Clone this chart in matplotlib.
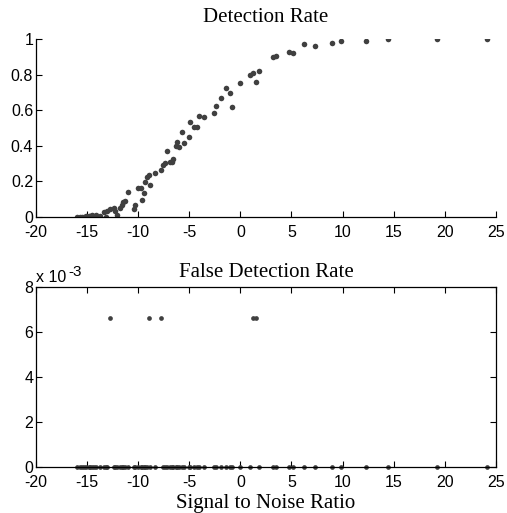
import matplotlib
matplotlib.use('Agg')
import matplotlib.pyplot as plt
from matplotlib.ticker import FuncFormatter

plt.rcParams['axes.unicode_minus'] = False

# signal to noise ratio for every trial (dB)
snr = [-15.98, -15.72, -15.49, -15.26, -15.07, -14.84, -14.68, -14.51, -14.35, -14.09,
       -13.77, -13.37, -13.14, -13.05, -12.72, -12.40, -12.23, -12.07, -11.81, -11.58,
       -11.48, -11.25, -10.99, -10.44, -10.27, -10.01, -9.69, -9.62, -9.46, -9.30,
       -9.13, -8.97, -8.81, -8.32, -7.73, -7.60, -7.34, -7.17, -6.85, -6.69,
       -6.59, -6.26, -6.20, -5.97, -5.71, -5.48, -5.06, -4.89, -4.57, -4.24,
       -4.08, -3.52, -2.54, -2.35, -1.86, -1.40, -1.05, -0.78, -0.07, 0.98,
       1.24, 1.57, 1.79, 3.16, 3.52, 4.73, 5.12, 6.26, 7.31, 8.97,
       9.88, 12.30, 14.45, 19.24, 24.14]

detection = [0.000, 0.000, 0.002, 0.000, 0.003, 0.008, 0.004, 0.010, 0.002, 0.012,
             0.006, 0.030, 0.000, 0.035, 0.045, 0.049, 0.035, 0.011, 0.050, 0.065,
             0.086, 0.090, 0.138, 0.045, 0.065, 0.161, 0.161, 0.096, 0.133, 0.198,
             0.227, 0.236, 0.180, 0.245, 0.264, 0.292, 0.305, 0.371, 0.311, 0.311,
             0.324, 0.399, 0.423, 0.391, 0.476, 0.414, 0.448, 0.532, 0.504, 0.504,
             0.569, 0.560, 0.582, 0.625, 0.667, 0.723, 0.695, 0.616, 0.751, 0.800,
             0.807, 0.757, 0.822, 0.897, 0.906, 0.929, 0.920, 0.970, 0.962, 0.976,
             0.991, 0.991, 0.998, 0.998, 0.998]

# false detections: zero everywhere except a handful of trials
false_hits = {-12.72: 0.0066, -8.97: 0.0066, -7.73: 0.0066, 1.24: 0.0066, 1.57: 0.0066}
false_rate = [false_hits.get(s, 0.0) for s in snr]

serif = 'Liberation Serif'
sans = 'Liberation Sans'
dot = '#404040'
xticks = [-20, -15, -10, -5, 0, 5, 10, 15, 20, 25]

fig = plt.figure(figsize=(5.07, 5.13), dpi=100)

# top panel: detection rate (box off)
ax1 = fig.add_axes([0.071, 0.577, 0.907, 0.347])
ax1.plot(snr, detection, 'o', color=dot, markersize=4.0, markeredgewidth=0)
ax1.set_xlim(-20, 25)
ax1.set_ylim(0, 1)
ax1.set_xticks(xticks)
ax1.set_yticks([0, 0.2, 0.4, 0.6, 0.8, 1])
ax1.set_yticklabels(['0', '0.2', '0.4', '0.6', '0.8', '1'])
ax1.spines['top'].set_visible(False)
ax1.spines['right'].set_visible(False)
ax1.set_title('Detection Rate', fontfamily=serif, fontsize=15, pad=12)

# bottom panel: false detection rate (box on)
ax2 = fig.add_axes([0.071, 0.090, 0.907, 0.351])
ax2.plot(snr, false_rate, 'o', color=dot, markersize=3.4, markeredgewidth=0, clip_on=False)
ax2.set_xlim(-20, 25)
ax2.set_ylim(0, 0.008)
ax2.set_xticks(xticks)
ax2.set_yticks([0, 0.002, 0.004, 0.006, 0.008])
ax2.yaxis.set_major_formatter(FuncFormatter(lambda v, _: f'{v * 1e3:g}'))
ax2.tick_params(top=True, right=True)
ax2.set_title('False Detection Rate', fontfamily=serif, fontsize=15, pad=7)
ax2.set_xlabel('Signal to Noise Ratio', fontfamily=serif, fontsize=15, labelpad=3)
# MATLAB-style exponent label
ax2.text(0.0, 1.012, 'x 10', transform=ax2.transAxes, fontsize=11.5,
         family=sans, ha='left', va='bottom')
ax2.text(0.070, 1.045, '-3', transform=ax2.transAxes, fontsize=11,
         family=sans, ha='left', va='bottom')

for ax in (ax1, ax2):
    ax.tick_params(direction='in', length=4, width=0.8, labelsize=11.5)
    ax.tick_params(axis='x', pad=6)
    ax.tick_params(axis='y', pad=2)
    for sp in ax.spines.values():
        sp.set_linewidth(0.9)
    for lab in ax.get_xticklabels() + ax.get_yticklabels():
        lab.set_family(sans)

fig.savefig('out.png', dpi=100)
